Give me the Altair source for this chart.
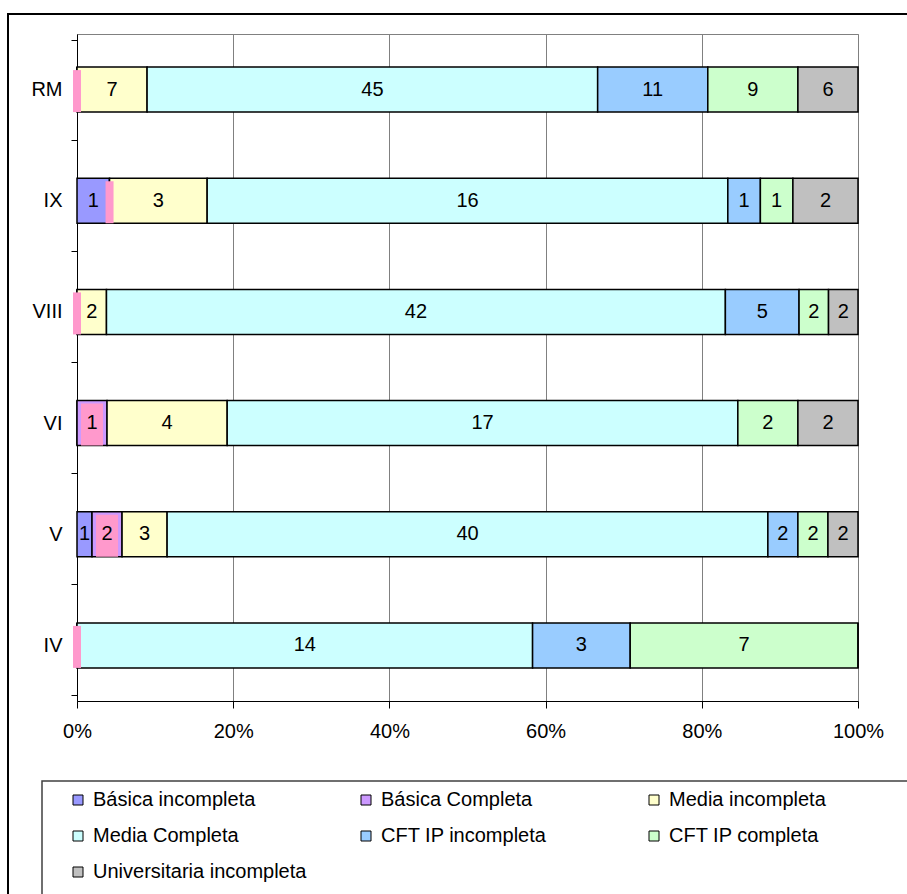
import altair as alt
import pandas as pd

# Regions, top to bottom
regions = ["RM", "IX", "VIII", "VI", "V", "IV"]

# Education level series (counts per region)
series = [
    "Básica incompleta",
    "Básica Completa",
    "Media incompleta",
    "Media  Completa",
    "CFT IP incompleta",
    "CFT IP completa",
    "Universitaria incompleta",
]
basica_incompleta = [0, 1, 0, 0, 1, 0]
basica_completa = [0, 0, 0, 1, 2, 0]
media_incompleta = [7, 3, 2, 4, 3, 0]
media_completa = [45, 16, 42, 17, 40, 14]
cft_incompleta = [11, 1, 5, 0, 2, 3]
cft_completa = [9, 1, 2, 2, 2, 7]
univ_incompleta = [6, 2, 2, 2, 2, 0]

colors = ["#9999FF", "#CC99FF", "#FFFFCC", "#CCFFFF", "#99CCFF", "#CCFFCC", "#C0C0C0"]
highlight = "#FF99CC"

values = [basica_incompleta, basica_completa, media_incompleta, media_completa,
          cft_incompleta, cft_completa, univ_incompleta]

rows = []
for k, (name, vals) in enumerate(zip(series, values)):
    for region, v in zip(regions, vals):
        rows.append({"region": region, "serie": name, "orden": k, "n": v})
df = pd.DataFrame(rows)

FONT = "Liberation Sans"

base = alt.Chart(df).transform_stack(
    stack="n", groupby=["region"], as_=["x0", "x1"], offset="normalize",
    sort=[alt.SortField("orden", order="ascending")],
)

y_enc = alt.Y(
    "region:N", sort=regions, title=None,
    axis=alt.Axis(
        tickBand="extent", grid=False, domainColor="black", tickColor="black",
        tickSize=6, labelPadding=9, labelFont=FONT, labelFontSize=20,
        labelColor="black",
    ),
)

bars = base.mark_bar(size=45, stroke="black", strokeWidth=1.5).encode(
    x=alt.X(
        "x0:Q", title=None,
        scale=alt.Scale(domain=[0, 1], nice=False),
        axis=alt.Axis(
            format=".0%", values=[0, 0.2, 0.4, 0.6, 0.8, 1.0],
            grid=True, gridColor="#808080", gridWidth=1,
            domainColor="black", tickColor="black", tickSize=7,
            labelPadding=13, labelFont=FONT, labelFontSize=20,
            labelColor="black", labelFlush=False,
        ),
    ),
    x2="x1:Q",
    y=y_enc,
    color=alt.Color(
        "serie:N",
        scale=alt.Scale(domain=series, range=colors),
        legend=alt.Legend(
            title=None, orient="none", legendX=-9, legendY=756,
            direction="horizontal", columns=3, gridAlign="all",
            columnPadding=49, rowPadding=16,
            symbolType="square", symbolSize=100, symbolStrokeColor="black",
            symbolStrokeWidth=1, labelFont=FONT, labelFontSize=20,
            labelColor="black", labelOffset=5, labelLimit=400, padding=0,
        ),
    ),
)

# Pink marker over the "Básica Completa" position of each bar
marker = base.transform_filter(
    alt.datum.serie == "Básica Completa"
).mark_bar(size=42, color=highlight, xOffset=4, x2Offset=-4, yOffset=1.5).encode(
    x="x0:Q", x2="x1:Q", y=alt.Y("region:N", sort=regions),
)

labels = base.transform_filter(alt.datum.n > 0).transform_calculate(
    xm="(datum.x0 + datum.x1) / 2"
).mark_text(font=FONT, fontSize=20, color="black", baseline="middle").encode(
    x="xm:Q", y=alt.Y("region:N", sort=regions), text="n:Q",
)

one = alt.Data(values=[{"k": 1}])

legend_box = alt.Chart(one).mark_rect(fill=None, stroke="#404040", strokeWidth=1.5).encode(
    x=alt.value(-35), x2=alt.value(1000), y=alt.value(747), y2=alt.value(1000),
)

frame = alt.Chart(one).mark_rect(fill=None, stroke="black", strokeWidth=2).encode(
    x=alt.value(-69), x2=alt.value(1000), y=alt.value(-20), y2=alt.value(1000),
)

chart = alt.layer(bars, marker, labels, legend_box, frame).properties(
    width=781, height=667,
    autosize="none",
    padding={"left": 77, "top": 34, "right": 49, "bottom": 193},
).configure_view(stroke="#808080", strokeWidth=1)

chart.save("out.html", embed_options={"renderer": "svg", "actions": False})
